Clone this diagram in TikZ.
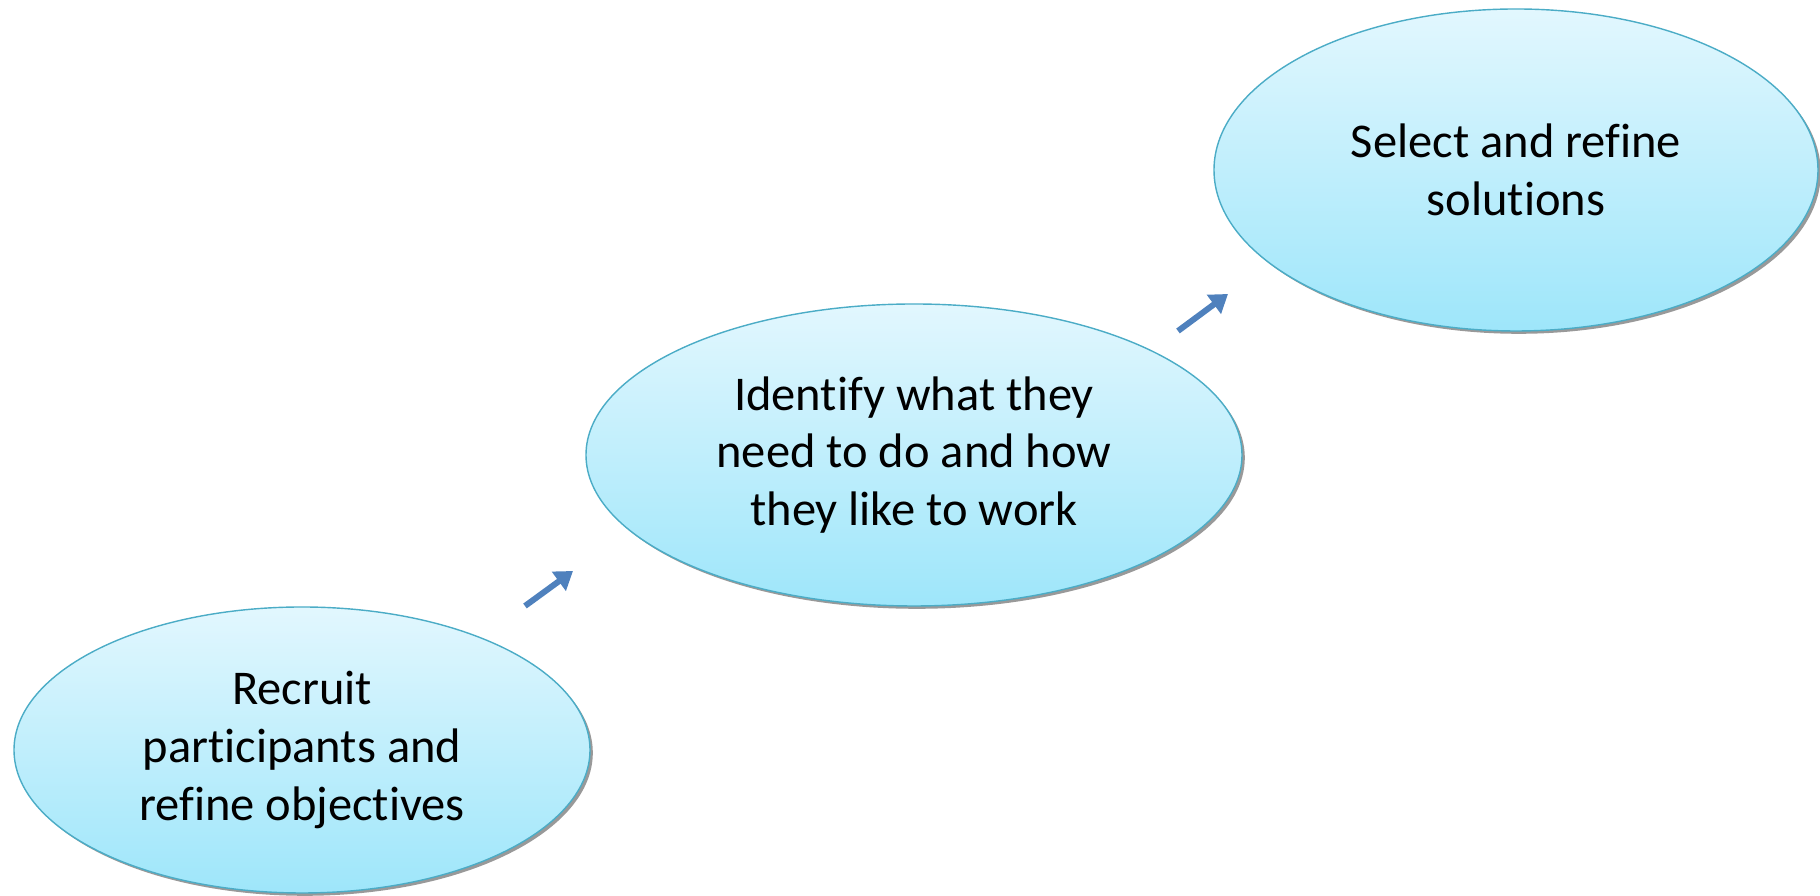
\documentclass[tikz,border=0pt]{standalone}
\usepackage{fontspec}
\setmainfont{Carlito}[Ligatures=NoCommon]
\usetikzlibrary{shapes.geometric,shadows,arrows.meta}
\definecolor{phasetop}{RGB}{226,247,254}
\definecolor{phasebot}{RGB}{158,230,250}
\definecolor{phaseline}{RGB}{75,172,198}
\definecolor{stepblue}{RGB}{79,129,189}
\begin{document}
\begin{tikzpicture}[
    phase/.style ={ellipse, draw=phaseline, thin, top color=phasetop, bottom color=phasebot,
      inner sep=0pt, align=center, font=\fontsize{13.8}{16.4}\selectfont,
      drop shadow={shadow xshift=0.8pt, shadow yshift=-0.8pt, fill=gray!80, opacity=1}},
    next/.style ={draw=stepblue, line width=1.7pt, -{Triangle[length=5pt, width=6.5pt]}}]
   \useasboundingbox (0,0) rectangle (18.2,-8.96);
   \node[phase, minimum width=5.76cm, minimum height=2.86cm] (R) at (3.02,-7.50)
     {Recruit\\participants and\\refine objectives};
   \node[phase, minimum width=6.56cm, minimum height=3.02cm] (I) at (9.14,-4.55)
     {Identify what they\\need to do and how\\they like to work};
   \node[phase, minimum width=6.04cm, minimum height=3.22cm] (S) at (15.16,-1.70)
     {Select and refine\\solutions};

   \coordinate (R1) at (5.25,-6.06);
   \coordinate (I1) at (5.73,-5.71);
   \coordinate (I2) at (11.78,-3.31);
   \coordinate (S1) at (12.28,-2.94);

   \draw[next] (R1) to (I1);
   \draw[next] (I2) to (S1);
 \end{tikzpicture}
\end{document}
